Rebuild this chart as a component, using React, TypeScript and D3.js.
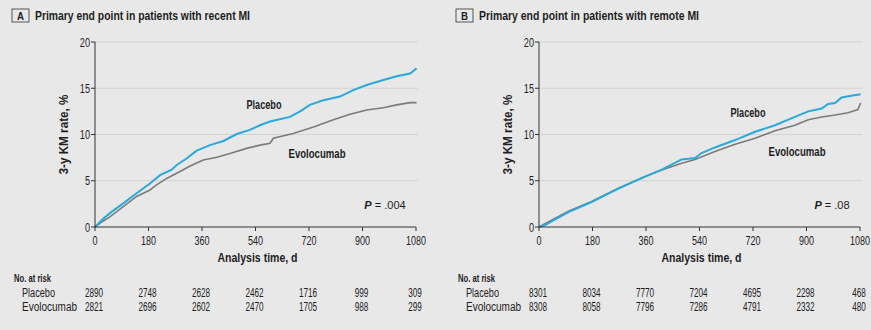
import React from "react";
import * as d3 from "d3";

// ---------- data ----------
const xTicks = [0, 180, 360, 540, 720, 900, 1080];
const yTicks = [0, 5, 10, 15, 20];

const recentPlaceboDays = [0, 25, 50, 95, 140, 185, 219, 258, 275, 308, 342, 387, 432, 477, 521, 555, 589, 656, 690, 723, 768, 824, 869, 914, 970, 1015, 1060, 1082];
const recentPlaceboRate = [0, 0.8, 1.5, 2.55, 3.65, 4.7, 5.6, 6.2, 6.7, 7.4, 8.25, 8.85, 9.3, 10.05, 10.5, 11.0, 11.4, 11.9, 12.5, 13.2, 13.7, 14.1, 14.8, 15.35, 15.9, 16.3, 16.6, 17.15];
const recentEvoDays = [0, 25, 50, 95, 140, 185, 207, 241, 286, 320, 364, 410, 454, 510, 555, 589, 600, 667, 735, 802, 858, 914, 970, 1015, 1060, 1082];
const recentEvoRate = [0, 0.6, 1.1, 2.2, 3.3, 4.0, 4.55, 5.25, 6.0, 6.6, 7.25, 7.55, 7.95, 8.5, 8.85, 9.05, 9.6, 10.1, 10.8, 11.6, 12.2, 12.65, 12.9, 13.2, 13.45, 13.45];

const remotePlaceboDays = [0, 20, 99, 177, 267, 357, 413, 480, 525, 547, 592, 660, 727, 794, 861, 906, 951, 973, 996, 1018, 1051, 1082];
const remotePlaceboRate = [0, 0.2, 1.6, 2.7, 4.15, 5.45, 6.2, 7.3, 7.45, 8.0, 8.6, 9.4, 10.3, 11.0, 11.9, 12.5, 12.8, 13.3, 13.4, 14.0, 14.2, 14.35];
const remoteEvoDays = [0, 20, 99, 177, 267, 357, 413, 480, 525, 592, 660, 727, 794, 861, 906, 951, 996, 1040, 1073, 1082];
const remoteEvoRate = [0, 0.35, 1.7, 2.75, 4.2, 5.45, 6.15, 6.9, 7.3, 8.15, 8.95, 9.6, 10.4, 11.0, 11.6, 11.9, 12.1, 12.35, 12.7, 13.4];

const recentRiskPlacebo = [2890, 2748, 2628, 2462, 1716, 999, 309];
const recentRiskEvo = [2821, 2696, 2602, 2470, 1705, 988, 299];
const remoteRiskPlacebo = [8301, 8034, 7770, 7204, 4695, 2298, 468];
const remoteRiskEvo = [8308, 8058, 7796, 7286, 4791, 2332, 480];

const FONT = "'Liberation Sans', Arial, sans-serif";
const BLUE = "#29a9dc";
const GRAY = "#7b7b7b";
const TEXT = "#1e1e1e";

type TProps = {
  x: number;
  y: number;
  size: number;
  anchor?: "start" | "middle" | "end";
  bold?: boolean;
  len: number;
  children: React.ReactNode;
};

// text squeezed to a condensed width with textLength
function T({ x, y, size, anchor = "start", bold = false, len, children }: TProps) {
  return (
    <text
      x={x}
      y={y}
      fontSize={size}
      fontWeight={bold ? "bold" : "normal"}
      textAnchor={anchor}
      textLength={len}
      lengthAdjust="spacingAndGlyphs"
    >
      {children}
    </text>
  );
}

const numLen = (v: number, per: number) => String(v).length * per;

type PanelProps = {
  ox: number;
  letter: string;
  title: string;
  titleLen: number;
  pDays: number[];
  pRate: number[];
  eDays: number[];
  eRate: number[];
  riskP: number[];
  riskE: number[];
  pLabel: [number, number];
  eLabel: [number, number];
  pText: string;
  pPos: [number, number];
};

function Panel(props: PanelProps) {
  const { ox } = props;
  const x = d3.scaleLinear().domain([0, 1080]).range([ox + 95, ox + 416]);
  const y = d3.scaleLinear().domain([0, 20]).range([227, 42]);
  const line = d3
    .line<[number, number]>()
    .x((d) => x(d[0]))
    .y((d) => y(d[1]))
    .curve(d3.curveLinear);
  const pData = props.pDays.map((d, i) => [d, props.pRate[i]] as [number, number]);
  const eData = props.eDays.map((d, i) => [d, props.eRate[i]] as [number, number]);
  const x0 = x(0);
  return (
    <g fontFamily={FONT} fill={TEXT}>
      {/* title */}
      <rect x={ox + 12} y={9} width={17} height={13} fill="none" stroke="#333" strokeWidth={0.8} />
      <T x={ox + 20.5} y={19.5} size={11} bold anchor="middle" len={7}>
        {props.letter}
      </T>
      <T x={ox + 35} y={20} size={12.5} bold len={props.titleLen}>
        {props.title}
      </T>
      {/* grid */}
      {yTicks.filter((t) => t > 0).map((t) => (
        <line key={t} x1={x0} x2={x(1080) + 2} y1={y(t)} y2={y(t)} stroke="#d3d3d3" strokeWidth={1} />
      ))}
      {/* curves */}
      <path d={line(eData) || ""} fill="none" stroke={GRAY} strokeWidth={1.6} />
      <path d={line(pData) || ""} fill="none" stroke={BLUE} strokeWidth={2} />
      {/* axes */}
      <line x1={x0} x2={x0} y1={y(20)} y2={y(0)} stroke="#333" strokeWidth={1} />
      <line x1={x0} x2={x(1080)} y1={y(0)} y2={y(0)} stroke="#333" strokeWidth={1} />
      {yTicks.map((t) => (
        <g key={t}>
          <line x1={x0 - 4} x2={x0} y1={y(t)} y2={y(t)} stroke="#333" strokeWidth={1} />
          <T x={x0 - 5} y={y(t) + 4.5} size={12.5} anchor="end" len={numLen(t, 5.1)}>
            {t}
          </T>
        </g>
      ))}
      {xTicks.map((t) => (
        <g key={t}>
          <line x1={x(t)} x2={x(t)} y1={y(0)} y2={y(0) + 4} stroke="#333" strokeWidth={1} />
          <T x={x(t)} y={245} size={12.5} anchor="middle" len={numLen(t, 5.0)}>
            {t}
          </T>
        </g>
      ))}
      <T x={(x(0) + x(1080)) / 2 + 2} y={262} size={12} bold anchor="middle" len={80}>
        Analysis time, d
      </T>
      <g transform={`translate(${ox + 68},${(y(0) + y(20)) / 2}) rotate(-90)`}>
        <T x={0} y={0} size={12} bold anchor="middle" len={80}>
          3-y KM rate, %
        </T>
      </g>
      {/* labels */}
      <T x={props.pLabel[0]} y={props.pLabel[1]} size={12} bold anchor="middle" len={35}>
        Placebo
      </T>
      <T x={props.eLabel[0]} y={props.eLabel[1]} size={12} bold anchor="middle" len={57}>
        Evolocumab
      </T>
      <text x={props.pPos[0]} y={props.pPos[1]} fontSize={11} textAnchor="middle">
        <tspan fontStyle="italic" fontWeight="bold">P</tspan> = {props.pText}
      </text>
      {/* risk table */}
      <T x={ox + 14} y={282} size={11.5} bold len={37}>
        No. at risk
      </T>
      <T x={ox + 22} y={297} size={12} len={33}>
        Placebo
      </T>
      <T x={ox + 22} y={310.5} size={12} len={55}>
        Evolocumab
      </T>
      {xTicks.map((t, i) => (
        <g key={"r" + t}>
          <T x={x(t) - 1} y={297} size={12.5} anchor="middle" len={numLen(props.riskP[i], 4.55)}>
            {props.riskP[i]}
          </T>
          <T x={x(t) - 1} y={310.5} size={12.5} anchor="middle" len={numLen(props.riskE[i], 4.55)}>
            {props.riskE[i]}
          </T>
        </g>
      ))}
    </g>
  );
}

export default function App() {
  return (
    <svg
      width={871}
      height={330}
      style={{ position: "absolute", left: 0, top: 0, background: "#e8e8e8" }}
    >
      <rect x={0} y={0} width={871} height={330} fill="#e8e8e8" />
      <Panel
        ox={0}
        letter="A"
        title="Primary end point in patients with recent MI"
        titleLen={215}
        pDays={recentPlaceboDays}
        pRate={recentPlaceboRate}
        eDays={recentEvoDays}
        eRate={recentEvoRate}
        riskP={recentRiskPlacebo}
        riskE={recentRiskEvo}
        pLabel={[264, 109]}
        eLabel={[317, 158]}
        pText=".004"
        pPos={[385, 209]}
      />
      <Panel
        ox={444}
        letter="B"
        title="Primary end point in patients with remote MI"
        titleLen={220}
        pDays={remotePlaceboDays}
        pRate={remotePlaceboRate}
        eDays={remoteEvoDays}
        eRate={remoteEvoRate}
        riskP={remoteRiskPlacebo}
        riskE={remoteRiskEvo}
        pLabel={[748, 117]}
        eLabel={[797, 156]}
        pText=".08"
        pPos={[832, 209]}
      />
    </svg>
  );
}
